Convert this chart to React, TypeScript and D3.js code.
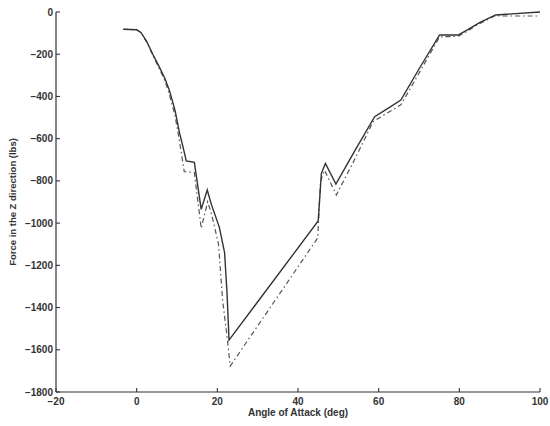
import React from "react";
import * as d3 from "d3";

const solidAoa = [-3.3, 0.0, 1.1, 2.5, 4.0, 5.6, 7.0, 8.1, 9.5, 10.6, 11.5, 12.3, 14.3, 16.0, 17.5, 18.5, 20.5, 21.8, 22.4, 22.9, 45.0, 45.8, 46.8, 49.4, 54.0, 59.0, 62.0, 65.5, 70.0, 75.1, 79.7, 82.0, 85.0, 89.0, 100];
const solidFz = [-82, -84, -98, -140, -200, -260, -315, -370, -465, -570, -640, -705, -712, -935, -843, -910, -1020, -1140, -1330, -1554, -990, -764, -717, -815, -660, -496, -460, -417, -270, -109, -109, -85, -50, -14, 0];

const dashAoa = [-3.3, 0.0, 1.1, 2.5, 4.0, 5.6, 7.0, 8.1, 9.5, 10.6, 11.8, 14.3, 16.0, 17.6, 18.6, 20.3, 21.3, 22.3, 23.2, 44.9, 45.6, 46.6, 49.5, 54.0, 58.6, 62.0, 65.5, 70.0, 75.1, 79.7, 82.0, 85.0, 89.0, 90.7, 100];
const dashFz = [-82, -84, -98, -143, -205, -268, -325, -390, -490, -610, -756, -760, -1025, -899, -960, -1100, -1364, -1520, -1677, -1070, -800, -750, -867, -700, -520, -480, -440, -290, -118, -115, -90, -55, -17, -19, -19];

const xTicks = [-20, 0, 20, 40, 60, 80, 100];
const yTicks = [0, -200, -400, -600, -800, -1000, -1200, -1400, -1600, -1800];

const W = 550;
const H = 426;
const left = 56;
const right = 540;
const top = 12;
const bottom = 392;

export default function App() {
  const x = d3.scaleLinear().domain([-20, 100]).range([left, right]);
  const y = d3.scaleLinear().domain([-1800, 0]).range([bottom, top]);
  const line = d3
    .line<[number, number]>()
    .x((d) => x(d[0]))
    .y((d) => y(d[1]));
  const solid = solidAoa.map((a, i) => [a, solidFz[i]] as [number, number]);
  const dash = dashAoa.map((a, i) => [a, dashFz[i]] as [number, number]);
  const font = "'Liberation Sans', Arial, Helvetica, sans-serif";
  const fmt = (t: number) => (t < 0 ? "\u2212" + Math.abs(t) : String(t));
  return (
    <svg
      width={W}
      height={H}
      style={{ position: "absolute", left: 0, top: 0, background: "#fff" }}
      fontFamily={font}
    >
      <rect x={0} y={0} width={W} height={H} fill="#fff" />
      <line x1={left} y1={top} x2={left} y2={bottom} stroke="#333" strokeWidth={1.2} />
      <line x1={left} y1={bottom} x2={right} y2={bottom} stroke="#333" strokeWidth={1.2} />
      {yTicks.map((t) => (
        <g key={"y" + t}>
          <line x1={left} x2={left + 4} y1={y(t)} y2={y(t)} stroke="#333" strokeWidth={1.1} />
          <text x={left - 3} y={y(t) + 3.5} textAnchor="end" fontSize={10} fontWeight="bold" fill="#333">
            {fmt(t)}
          </text>
        </g>
      ))}
      {xTicks.map((t) => (
        <g key={"x" + t}>
          <line x1={x(t)} x2={x(t)} y1={bottom} y2={bottom - 4} stroke="#333" strokeWidth={1.1} />
          <text x={x(t)} y={bottom + 13} textAnchor="middle" fontSize={10} fontWeight="bold" fill="#333">
            {fmt(t)}
          </text>
        </g>
      ))}
      <text x={(left + right) / 2} y={bottom + 24} textAnchor="middle" fontSize={10} fontWeight="bold" fill="#333">
        Angle of Attack (deg)
      </text>
      <text
        transform={`translate(16, ${(top + bottom) / 2}) rotate(-90)`}
        textAnchor="middle"
        fontSize={9.5}
        fontWeight="bold"
        fill="#333"
      >
        Force in the Z direction (lbs)
      </text>
      <path d={line(dash) ?? ""} fill="none" stroke="#555" strokeWidth={1.2} strokeDasharray="5,3,1.5,3" />
      <path d={line(solid) ?? ""} fill="none" stroke="#333" strokeWidth={1.4} />
    </svg>
  );
}
